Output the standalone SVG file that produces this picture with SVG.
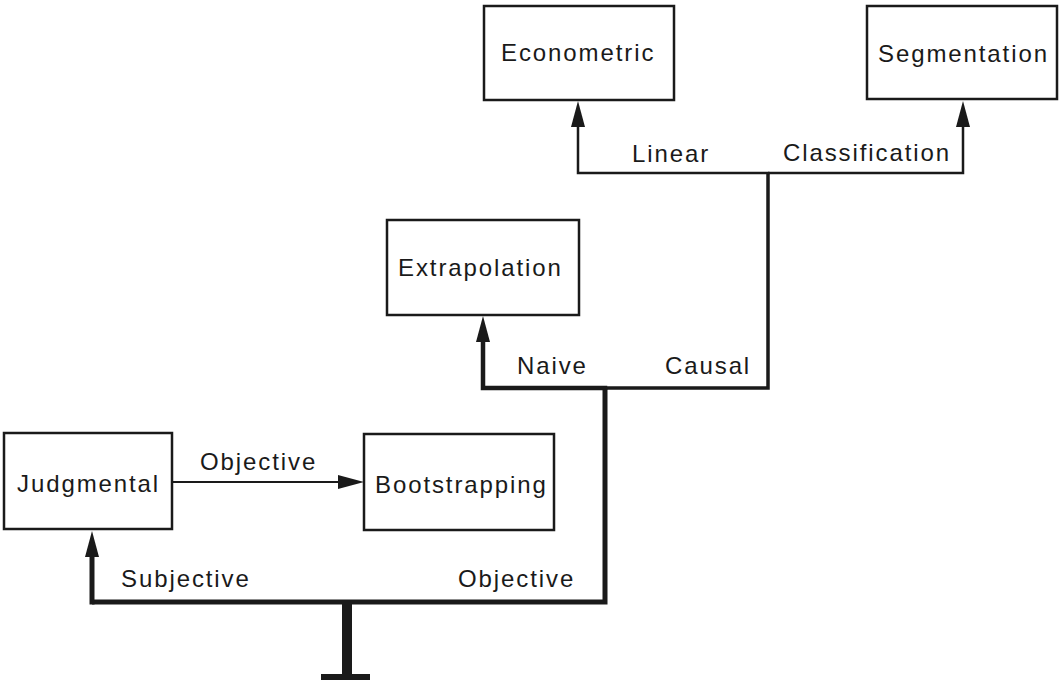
<svg xmlns="http://www.w3.org/2000/svg" width="1061" height="681" viewBox="0 0 1061 681">
<style>
.box{fill:#fff;stroke:#1a1a1a;stroke-width:2.5}
.lbl{font-family:"Liberation Sans",Arial,sans-serif;font-size:24px;letter-spacing:1.9px;fill:#1a1a1a}
.ln{fill:none;stroke:#1a1a1a;stroke-linejoin:miter;stroke-linecap:butt}
</style>
<defs>
<marker id="ah" viewBox="0 0 26 14" markerWidth="26" markerHeight="14" refX="1" refY="7" orient="auto" markerUnits="userSpaceOnUse">
<path d="M0,0 L26,7 L0,14 z" fill="#1a1a1a"/>
</marker>
</defs>
<rect width="1061" height="681" fill="#fff"/>
<g id="connectors">
<path class="ln" d="M92,602 H605 V388" stroke-width="5"/>
<path class="ln" d="M92,604.5 V556" stroke-width="5" marker-end="url(#ah)"/>
<path class="ln" d="M605,390 V388 H483 V341" stroke-width="4.5" marker-end="url(#ah)"/>
<path class="ln" d="M603,388 H768 V173" stroke-width="3.5"/>
<path class="ln" d="M769.5,173 H578 V126" stroke-width="2.5" marker-end="url(#ah)"/>
<path class="ln" d="M768,173 H963 V126" stroke-width="2.5" marker-end="url(#ah)"/>
<path class="ln" d="M172,482 H339" stroke-width="2" marker-end="url(#ah)"/>
<path class="ln" d="M347,602 V677" stroke-width="10"/>
<path class="ln" d="M321,677 H370" stroke-width="6"/>
<text class="lbl" x="632" y="162">Linear</text>
<text class="lbl" x="783" y="161">Classification</text>
<text class="lbl" x="517" y="374">Naive</text>
<text class="lbl" x="665" y="374">Causal</text>
<text class="lbl" x="200" y="470">Objective</text>
<text class="lbl" x="121" y="587">Subjective</text>
<text class="lbl" x="458" y="587">Objective</text>
</g>
<g id="econometric"><rect class="box" x="484" y="6" width="190" height="94"/><text class="lbl" x="501" y="61">Econometric</text></g>
<g id="segmentation"><rect class="box" x="867" y="6" width="190" height="93"/><text class="lbl" x="878" y="62">Segmentation</text></g>
<g id="extrapolation"><rect class="box" x="387" y="220" width="192" height="95"/><text class="lbl" x="398" y="276">Extrapolation</text></g>
<g id="judgmental"><rect class="box" x="4" y="433" width="168" height="96"/><text class="lbl" x="17" y="492">Judgmental</text></g>
<g id="bootstrapping"><rect class="box" x="364" y="434" width="190" height="96"/><text class="lbl" x="375" y="493">Bootstrapping</text></g>
</svg>
